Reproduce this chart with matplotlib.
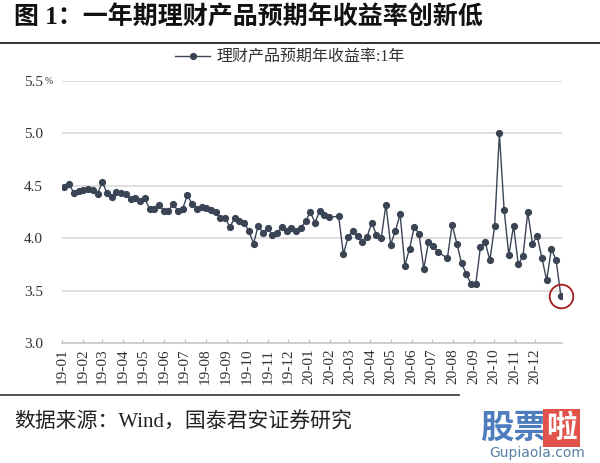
import matplotlib
matplotlib.use("Agg")
import matplotlib.pyplot as plt
import matplotlib.dates as mdates
import pandas as pd

plt.rcParams["font.family"] = ["Liberation Serif", "Noto Sans CJK SC"]

# weekly yield of 1-year wealth-management products (%)
yields = [4.49, 4.52, 4.43, 4.45, 4.46, 4.47, 4.46, 4.42, 4.54, 4.43,
          4.39, 4.44, 4.43, 4.42, 4.37, 4.38, 4.36, 4.38, 4.28, 4.28,
          4.32, 4.26, 4.26, 4.33, 4.26, 4.28, 4.41, 4.33, 4.28, 4.30,
          4.29, 4.27, 4.25, 4.19, 4.19, 4.11, 4.19, 4.16, 4.15, 4.07,
          3.95, 4.12, 4.05, 4.10, 4.03, 4.05, 4.11, 4.07, 4.10, 4.07,
          4.10, 4.16, 4.25, 4.15, 4.26, 4.22, 4.20, 4.21, 3.85, 4.01,
          4.07, 4.02, 3.96, 4.01, 4.15, 4.03, 4.00, 4.32, 3.94, 4.07,
          4.23, 3.74, 3.90, 4.11, 4.04, 3.71, 3.96, 3.93, 3.87, 3.81,
          4.13, 3.95, 3.76, 3.66, 3.56, 3.56, 3.92, 3.96, 3.79, 4.12,
          5.00, 4.27, 3.84, 4.12, 3.75, 3.83, 4.25, 3.95, 4.02, 3.81,
          3.60, 3.90, 3.79, 3.45]
first_week = "2019-01-04"
n_weeks = 106
missing_weeks = [57, 80]          # weeks with no print
y_ticks = [3.0, 3.5, 4.0, 4.5, 5.0, 5.5]
first_month, last_month = "2019-01-01", "2020-12-01"

title = "图 1：一年期理财产品预期年收益率创新低"
series_name = "理财产品预期年收益率:1年"
source = "数据来源：Wind，国泰君安证券研究"

dates = pd.date_range(first_week, periods=n_weeks, freq="7D").delete(missing_weeks)
months = pd.date_range(first_month, last_month, freq="MS")

fig = plt.figure(figsize=(6, 4.63), dpi=100)
ax = fig.add_axes([0.104, 0.259, 0.833, 0.566])

line_c = "#3a4455"
ax.plot(dates, yields, color=line_c, lw=1.0, marker="o", ms=4.2,
        mfc=line_c, mec=line_c, label=series_name)
# red ring round the latest print
ax.plot(dates[-1:], yields[-1:], ls="none", marker="o", ms=17, mfc="none",
        mec="#a51c1c", mew=1.3, clip_on=False)

ax.set_ylim(3.0, 5.5)
ax.set_xlim(pd.Timestamp("2019-01-01"), pd.Timestamp("2021-01-10"))
ax.set_yticks(y_ticks)
ax.set_yticklabels([f"{v:.1f}" for v in y_ticks], fontsize=11, color="#333333")
ax.yaxis.grid(True, color="#d9d9d9", lw=1.2)
ax.set_axisbelow(True)
ax.tick_params(axis="y", length=0, pad=14)

ax.set_xticks(months)
ax.xaxis.set_major_formatter(mdates.DateFormatter("%y-%m"))
ax.tick_params(axis="x", direction="in", length=3, color="#bfbfbf",
               labelsize=11, labelrotation=90, labelcolor="#333333", pad=4)

for s in ["top", "right", "left"]:
    ax.spines[s].set_visible(False)
ax.spines["bottom"].set_color("#c8c8c8")
ax.spines["bottom"].set_linewidth(1.2)

ax.text(-0.035, 1.0, "%", transform=ax.transAxes, fontsize=7,
        va="center", ha="left", color="#333333")

leg = ax.legend(loc="lower center", bbox_to_anchor=(0.456, 1.005), frameon=False,
                fontsize=11.5, handlelength=2.2, handletextpad=0.4)
for t in leg.get_texts():
    t.set_color("#333333")

# header and footer
fig.text(0.023, 0.962, title, fontsize=18, fontweight="bold", va="center",
         color="#111111")
fig.add_artist(plt.Line2D([0, 1], [0.907, 0.907], color="#333333", lw=1.4))
fig.add_artist(plt.Line2D([0, 0.765], [0.147, 0.147], color="#333333", lw=1.2))
fig.text(0.023, 0.087, source, fontsize=15, va="center", color="#222222")

# site watermark
fig.text(0.80, 0.075, "股票", fontsize=24, fontweight="bold", color="#3b6fb6",
         va="center", family="Noto Sans CJK SC", alpha=0.9)
fig.text(0.91, 0.075, "啦", fontsize=22, fontweight="bold", color="white",
         va="center", family="Noto Sans CJK SC",
         bbox=dict(boxstyle="square,pad=0.1", fc="#e0524a", ec="none"))
fig.text(0.815, 0.022, "Gupiaola.com", fontsize=10, color="#5a7fa8",
         va="center", family="DejaVu Sans")

fig.savefig("out.png", dpi=100)
